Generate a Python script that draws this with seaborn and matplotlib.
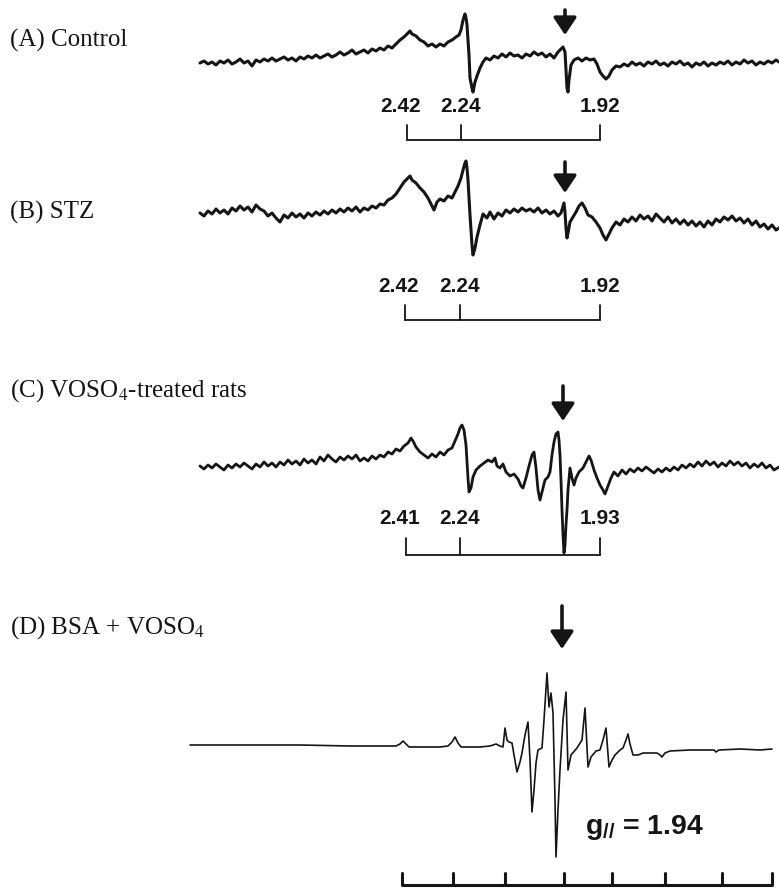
import seaborn as sns
import matplotlib.pyplot as plt
import pandas as pd

# EPR spectra: field position (left to right) and signal amplitude (up = positive)
a_field = [200, 204, 208, 212, 216, 220, 224, 228, 232, 236, 240, 244, 248, 252, 256, 260, 264, 268, 272, 276,
           280, 284, 288, 292, 296, 300, 304, 308, 312, 316, 320, 324, 328, 332, 336, 340, 344, 348, 352, 356,
           360, 364, 368, 372, 376, 380, 384, 388, 392, 396, 400, 404, 408, 410, 412, 416, 420, 424, 428, 432,
           436, 440, 444, 448, 452, 456, 459, 461, 463, 465, 466, 467, 469, 470, 472, 473, 475, 477, 480, 483,
           486, 490, 494, 498, 502, 506, 510, 514, 518, 522, 526, 530, 534, 538, 542, 546, 550, 554, 558, 561,
           563, 565, 566, 567, 568, 569, 571, 574, 578, 582, 586, 590, 594, 597, 600, 603, 606, 609, 612, 616,
           620, 624, 628, 632, 636, 640, 644, 648, 652, 656, 660, 664, 668, 672, 676, 680, 684, 688, 692, 696,
           700, 704, 708, 712, 716, 720, 724, 728, 732, 736, 740, 744, 748, 752, 756, 760, 764, 768, 772, 776, 779]
a_signal = [0, 2, -1, 1, -2, 2, 0, 3, -1, 1, 4, 0, 2, -3, 3, 1, 4, 2, 5, 2,
            4, 6, 3, 5, 2, 6, 4, 7, 5, 8, 5, 7, 9, 6, 8, 11, 8, 10, 13, 9,
            11, 13, 10, 14, 12, 15, 13, 17, 15, 19, 23, 26, 30, 32, 29, 27, 23, 21, 17, 19,
            16, 19, 17, 21, 23, 26, 28, 33, 43, 49, 45, 38, 8, -15, -25, -29, -19, -13, -5, 1,
            5, 3, 7, 5, 9, 6, 10, 7, 8, 5, 9, 7, 11, 8, 10, 6, 9, 5, 11, 14,
            16, 11, -7, -25, -29, -17, -2, 3, 5, 2, 5, 3, 4, -1, -9, -13, -16, -13, -7, -3,
            -4, -1, -3, 1, -2, 0, -3, 1, -1, 2, -2, 0, -3, 1, -1, 2, -2, 0, -4, 0,
            -2, 1, -3, 0, -2, 1, -1, 2, -2, 1, -1, 3, 0, 2, -2, 1, -1, 2, 0, 3, 1]

b_field = [200, 204, 208, 212, 216, 220, 224, 228, 232, 236, 240, 244, 248, 252, 256, 260, 264, 268, 272, 276,
           280, 284, 288, 292, 296, 300, 304, 308, 312, 316, 320, 324, 328, 332, 336, 340, 344, 348, 352, 356,
           360, 364, 368, 372, 376, 380, 384, 388, 392, 396, 400, 404, 408, 410, 412, 416, 420, 424, 428, 431,
           434, 437, 440, 444, 448, 452, 455, 458, 461, 463, 465, 466, 467, 468, 470, 472, 473, 475, 477, 480,
           483, 487, 490, 494, 498, 502, 506, 510, 514, 518, 522, 526, 530, 534, 538, 542, 546, 550, 554, 558,
           561, 564, 565, 566, 567, 568, 570, 573, 576, 579, 582, 585, 588, 592, 596, 600, 603, 606, 609, 612,
           616, 620, 624, 628, 632, 636, 640, 644, 648, 652, 656, 660, 664, 668, 672, 676, 680, 684, 688, 692,
           696, 700, 704, 708, 712, 716, 720, 724, 728, 732, 736, 740, 744, 748, 752, 756, 760, 764, 768, 772, 776, 779]
b_signal = [2, -1, 4, 1, 6, 2, 5, 1, 7, 4, 9, 5, 8, 3, 10, 6, 4, -1, 2, -3,
            -7, 0, -3, 2, -2, 1, -3, 2, -1, 3, 0, 4, 1, 5, 2, 6, 3, 7, 4, 8,
            3, 7, 5, 9, 7, 11, 10, 15, 17, 21, 27, 33, 37, 39, 35, 32, 27, 23, 17, 11,
            5, 13, 16, 14, 19, 17, 23, 29, 37, 45, 52, 54, 47, 35, 0, -30, -40, -33, -22, -10,
            1, -3, 3, -4, 2, -1, 5, 2, 6, 3, 7, 4, 6, 3, 7, 2, 5, 1, 4, -1,
            2, 12, 3, -13, -23, -18, -7, -2, 3, 9, 12, 7, 0, -2, -7, -13, -20, -25, -19, -13,
            -7, -10, -4, -7, -2, -6, 0, -4, -1, -6, 1, -3, -7, -2, -8, -4, -9, -5, -10, -6,
            -11, -7, -12, -6, -10, -4, -7, -2, -5, -1, -6, -3, -8, -4, -10, -6, -12, -9, -14, -10, -15, -13]

c_field = [200, 204, 208, 212, 216, 220, 224, 228, 232, 236, 240, 244, 248, 252, 256, 260, 264, 268, 272, 276,
           280, 284, 288, 292, 296, 300, 304, 308, 312, 316, 320, 324, 328, 332, 336, 340, 344, 348, 352, 356,
           360, 364, 368, 372, 376, 380, 384, 388, 392, 396, 400, 404, 408, 411, 413, 416, 420, 424, 428, 432,
           436, 440, 444, 448, 452, 455, 458, 460, 462, 464, 466, 468, 469, 471, 473, 476, 480, 484, 488, 492,
           495, 497, 500, 503, 506, 510, 514, 518, 521, 523, 526, 529, 532, 534, 536, 538, 540, 542, 545, 548,
           550, 552, 554, 556, 558, 559, 560, 561, 562, 563, 564, 565, 566, 567, 568, 570, 572, 574, 576, 579,
           583, 586, 589, 591, 594, 597, 600, 603, 605, 608, 611, 614, 618, 622, 626, 630, 634, 638, 642, 646,
           650, 654, 658, 662, 666, 670, 674, 678, 682, 686, 690, 694, 698, 702, 706, 710, 714, 718, 722, 726,
           730, 734, 738, 742, 746, 750, 754, 758, 762, 766, 770, 774, 779]
c_signal = [2, -1, 3, 0, 4, 1, -2, 3, 0, 4, 1, 5, 2, -1, 4, 1, 6, 2, 5, 1,
            6, 3, 8, 4, 7, 3, 9, 5, 8, 4, 11, 7, 13, 9, 6, 11, 8, 12, 9, 13,
            7, 10, 7, 12, 9, 13, 11, 16, 14, 19, 17, 22, 25, 30, 27, 21, 16, 13, 10, 14,
            11, 16, 13, 18, 20, 27, 34, 40, 43, 38, 23, -10, -24, -20, -9, -2, 2, 5, 8, 6,
            10, 2, 0, 4, -4, -8, -6, -11, -18, -20, -10, 2, 13, 16, 0, -22, -32, -24, -12, -9,
            -4, 13, 26, 34, 36, 28, 13, -12, -42, -67, -85, -77, -57, -42, -22, 0, -10, -17, -10, -4,
            0, 6, 12, 8, -2, -10, -17, -22, -26, -18, -10, -4, -8, -2, -6, -1, -4, 0, -3, 1,
            -2, -5, -1, -4, 0, -3, 1, -2, 3, 0, 4, 1, 6, 2, 7, 3, 6, 1, 5, 2,
            7, 3, 6, 2, 5, 0, 4, 1, 5, 0, 3, -2, 1]

d_field = [190, 250, 300, 350, 390, 396, 400, 403, 406, 409, 420, 440, 448, 452, 455, 458, 461, 480, 490, 496,
           500, 503, 505, 507, 509, 512, 514, 517, 520, 522, 525, 528, 530, 532, 534, 536, 538, 542, 544, 547,
           549, 551, 553, 555, 556, 558, 560, 563, 566, 568, 571, 577, 582, 585, 588, 591, 596, 600, 603, 606,
           609, 612, 615, 620, 623, 626, 628, 630, 633, 638, 643, 650, 657, 660, 662, 665, 670, 690, 710, 714,
           716, 719, 740, 760, 772]
d_signal = [0, 0, 0, -1, -1, -1, 1, 4, 1, -2, -2, -2, -1, 3, 8, 2, -2, -2, -1, 1,
            -1, -2, 17, 5, 3, 2, -10, -27, -17, -8, 10, 23, -15, -67, -45, -18, -5, -3, 25, 72,
            38, 52, 32, -55, -112, -65, -25, 25, 53, -25, -10, -3, 5, 37, -22, -12, -6, -5, 5, 17,
            -22, -15, -10, -5, -3, 5, 11, 1, -10, -10, -8, -8, -8, -10, -12, -8, -6, -5, -5, -5,
            -7, -5, -4, -5, -4]

panel_labels = ["(A) Control", "(B) STZ", r"(C) VOSO$_4$-treated rats", r"(D) BSA + VOSO$_4$"]

# g-value markers under panels A-C
g_labels = [["2.42", "2.24", "1.92"], ["2.42", "2.24", "1.92"], ["2.41", "2.24", "1.93"]]
g_fields = [[407, 461, 600], [405, 460, 600], [406, 460, 600]]

# field scale under panel D and the V(IV) signal marked by the arrows
ruler_fields = [402, 453, 505, 564, 612, 665, 722, 772]
vanadyl_fields = [565, 565, 563, 562]
g_parallel = "1.94"

# layout (pixel-like coordinates of the page)
baselines = [63, 215, 468, 745]
label_y = [40, 212, 391, 628]
arrow_top = [10, 162, 386, 606]
arrow_tip = [35, 193, 421, 649]
g_text_y = [107, 287, 518]
bracket_top = [125, 305, 538]
bracket_y = [140, 320, 555]
ruler_y = 885
ink = "#151515"

sns.set_theme(style="white")
plt.rcParams["mathtext.fontset"] = "custom"
plt.rcParams["mathtext.rm"] = "Liberation Sans:bold"
plt.rcParams["mathtext.it"] = "Liberation Sans:italic:bold"

fig = plt.figure(figsize=(7.79, 8.92), dpi=100)
ax = fig.add_axes([0, 0, 1, 1])
ax.set_xlim(0, 779)
ax.set_ylim(892, 0)
ax.set_axis_off()

traces = [(a_field, a_signal, 2.2), (b_field, b_signal, 2.2), (c_field, c_signal, 2.0), (d_field, d_signal, 1.2)]
for i, (fld, sig, lw) in enumerate(traces):
    df = pd.DataFrame({"field": fld, "pos": [baselines[i] - s for s in sig]})
    sns.lineplot(data=df, x="field", y="pos", ax=ax, sort=False, estimator=None,
                 color=ink, linewidth=lw)
    ax.text(10, label_y[i], panel_labels[i], family="Liberation Serif", fontsize=18,
            va="center", ha="left", color=ink, math_fontfamily="stix")
    ax.annotate("", xy=(vanadyl_fields[i], arrow_tip[i]), xytext=(vanadyl_fields[i], arrow_top[i]),
                arrowprops=dict(arrowstyle="-|>,head_length=0.75,head_width=0.5", color=ink,
                                lw=2.6, mutation_scale=14, shrinkA=0, shrinkB=0))
ax.set_xlabel("")
ax.set_ylabel("")

for i in range(3):
    xs = g_fields[i]
    for j, (lab, x) in enumerate(zip(g_labels[i], xs)):
        shift = -6 if j == 0 else 0
        ax.text(x + shift, g_text_y[i], lab, family="Liberation Sans", fontweight="bold",
                fontsize=15, ha="center", va="center", color=ink)
        ax.plot([x, x], [bracket_top[i], bracket_y[i]], color=ink, lw=1.3)
    ax.plot([xs[0], xs[-1]], [bracket_y[i], bracket_y[i]], color=ink, lw=1.3)

ax.plot([ruler_fields[0], ruler_fields[-1]], [ruler_y, ruler_y], color=ink, lw=2.2, solid_capstyle="butt")
for x in ruler_fields:
    ax.plot([x, x], [ruler_y - 12, ruler_y], color=ink, lw=2.2)
ax.text(645, 828, r"g$_{\mathit{//}}$ = " + g_parallel, family="Liberation Sans", fontweight="bold",
        fontsize=20.5, ha="center", va="center", color=ink, math_fontfamily="custom")

fig.savefig("out.png", dpi=100, facecolor="white")
